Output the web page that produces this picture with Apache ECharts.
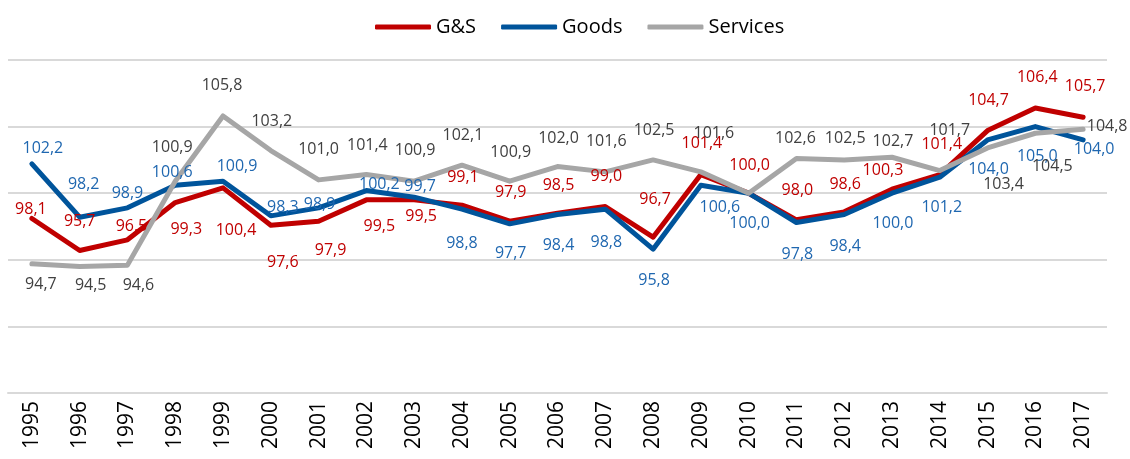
<!DOCTYPE html>
<html>
<head>
<meta charset="utf-8">
<script src="https://cdn.jsdelivr.net/npm/echarts@6/dist/echarts.min.js"></script>
<style>
  html, body { margin: 0; padding: 0; background: #fff; }
  #chart { width: 1130px; height: 459px; }
</style>
</head>
<body>
<div id="chart"></div>
<script>
// years on the x axis
var years = ['1995', '1996', '1997', '1998', '1999', '2000', '2001', '2002', '2003', '2004', '2005', '2006',
    '2007', '2008', '2009', '2010', '2011', '2012', '2013', '2014', '2015', '2016', '2017'];

// index values (2010 = 100)
var gsValues = [98.1, 95.7, 96.5, 99.3, 100.4, 97.6, 97.9, 99.5, 99.5, 99.1, 97.9, 98.5,
    99.0, 96.7, 101.4, 100.0, 98.0, 98.6, 100.3, 101.4, 104.7, 106.4, 105.7];
var goodsValues = [102.2, 98.2, 98.9, 100.6, 100.9, 98.3, 98.9, 100.2, 99.7, 98.8, 97.7, 98.4,
    98.8, 95.8, 100.6, 100.0, 97.8, 98.4, 100.0, 101.2, 104.0, 105.0, 104.0];
var servicesValues = [94.7, 94.5, 94.6, 100.9, 105.8, 103.2, 101.0, 101.4, 100.9, 102.1, 100.9, 102.0,
    101.6, 102.5, 101.6, 100.0, 102.6, 102.5, 102.7, 101.7, 103.4, 104.5, 104.8];

// label offsets from each point, in px (style only); null = no label
var gsOff = [[-1, -9], [0, -29], [4, -13], [11, 27], [13, 43], [12, 37], [12, 29], [13, 27], [7, 17],
    [1, -28], [1, -29], [1, -28], [1, -30], [2, -38], [1, -31], [1, -28], [1, -29], [1, -27], [-9, -19],
    [2, -30], [1, -30], [2, -31], [2, -31]];
var goodsOff = [[11, -15], [4, -33], [0, -14], [-3, -13], [14, -15], [12, -8], [1, -3], [13, -6], [6, -11],
    [0, 34], [1, 30], [1, 31], [1, 33], [1, 31], [19, 22], [1, 30], [1, 32], [1, 32], [1, 30],
    [2, 30], [1, 30], [2, 30], [11, 10]];
var servicesOff = [[9, 21], [11, 19], [11, 20], [-3, -34], [-1, -31], [1, -29], [0, -30], [1, -29], [1, -31],
    [1, -30], [1, -29], [1, -28], [1, -30], [1, -29], [13, -38], null, [-1, -20], [1, -21], [1, -16],
    [10, -40], [16, 37], [17, 33], [24, -3]];

var labelFont = '"Open Sans", sans-serif';

// data items, hiding labels where the chart has none
function buildData(values, offs) {
    var out = [];
    for (var i = 0; i < values.length; i++) {
        out.push({ value: values[i], label: { show: offs[i] !== null } });
    }
    return out;
}

function makeSeries(name, values, offs, lineColor, labelColor) {
    return {
        name: name,
        type: 'line',
        data: buildData(values, offs),
        symbol: 'circle',
        symbolSize: 0,
        showSymbol: true,
        lineStyle: { color: lineColor, width: 5, cap: 'round', join: 'round' },
        itemStyle: { color: lineColor },
        label: {
            show: true,
            position: 'inside',
            align: 'center',
            verticalAlign: 'middle',
            color: labelColor,
            fontSize: 16,
            fontFamily: labelFont,
            formatter: function (p) {
                return p.value.toFixed(1).replace('.', ',');
            }
        },
        labelLayout: function (p) {
            var o = offs[p.dataIndex] || [0, 0];
            return { dx: o[0], dy: o[1], hideOverlap: false };
        },
        emphasis: { disabled: true }
    };
}

var chart = echarts.init(document.getElementById('chart'));

var option = {
    animation: false,
    legend: {
        top: 12,
        left: 370,
        icon: 'roundRect',
        itemWidth: 56,
        itemHeight: 5,
        itemGap: 25,
        textStyle: { fontSize: 20, fontFamily: labelFont, color: '#000' },
        data: ['G&S', 'Goods', 'Services']
    },
    grid: { left: 8, right: 23, top: 60, bottom: 66 },
    xAxis: {
        type: 'category',
        data: years,
        boundaryGap: true,
        axisLine: { lineStyle: { color: '#d9d9d9', width: 2 } },
        axisTick: { show: false },
        axisLabel: {
            rotate: 90,
            margin: 8,
            color: '#000',
            fontSize: 21,
            fontFamily: labelFont,
            interval: 0
        }
    },
    yAxis: {
        type: 'value',
        min: 85,
        max: 110,
        interval: 5,
        axisLabel: { show: false },
        axisLine: { show: false },
        axisTick: { show: false },
        splitLine: { lineStyle: { color: '#d9d9d9', width: 2 } }
    },
    series: [
        makeSeries('G&S', gsValues, gsOff, '#C00000', '#C00000'),
        makeSeries('Goods', goodsValues, goodsOff, '#00549B', '#1F67B0'),
        makeSeries('Services', servicesValues, servicesOff, '#A6A6A6', '#404040')
    ]
};

chart.setOption(option);
</script>
</body>
</html>
